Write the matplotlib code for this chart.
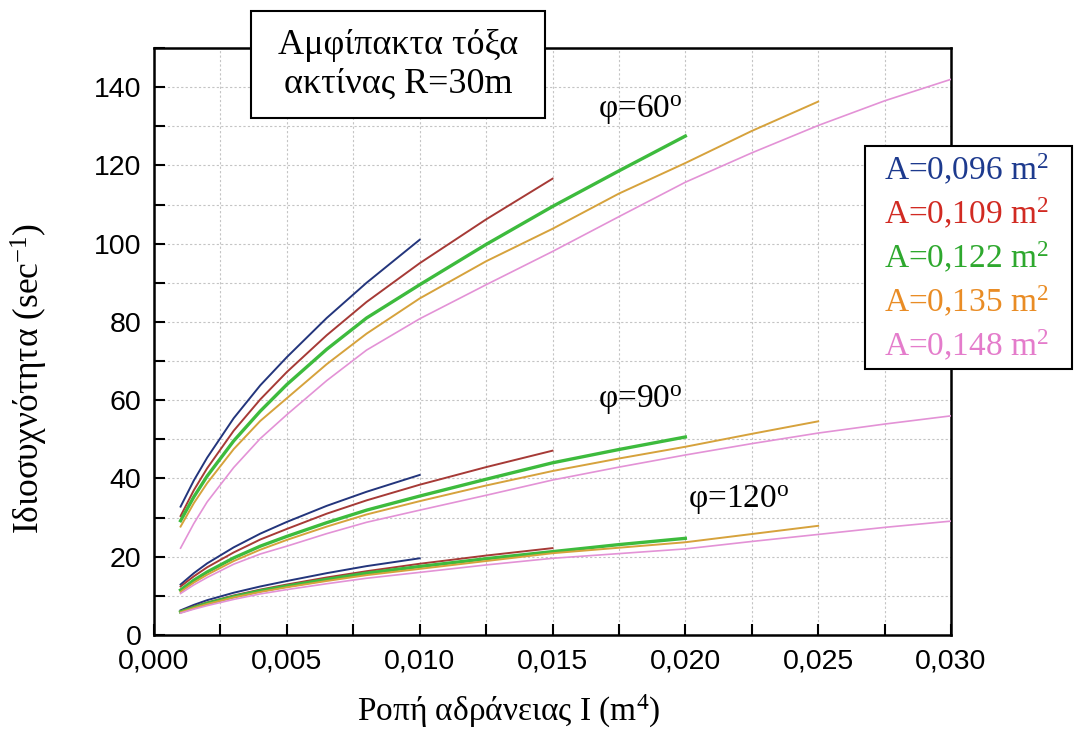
import matplotlib
matplotlib.use('Agg')
import matplotlib.pyplot as plt
from matplotlib.patches import Rectangle
from matplotlib.lines import Line2D
from matplotlib.ticker import MultipleLocator, FuncFormatter

plt.rcParams['font.family'] = ['Liberation Serif', 'DejaVu Serif']
plt.rcParams['mathtext.default'] = 'regular'

#========================================================================
# Data: moment of inertia I (m^4) vs natural frequency (sec^-1)
#========================================================================
I_vals = [0.001, 0.0015, 0.002, 0.003, 0.004, 0.005, 0.0065, 0.008, 0.010,
          0.0125, 0.015, 0.0175, 0.020, 0.0225, 0.025, 0.0275, 0.030]

areas = ['0,096', '0,109', '0,122', '0,135', '0,148']
line_colors = ['#23357c', '#a63a36', '#3dbb3d', '#d6a23c', '#e392d6']
text_colors = ['#1d3a8e', '#d12a22', '#2ea82e', '#e98c25', '#e47ccb']
line_widths = [1.4, 1.4, 2.4, 1.4, 1.2]

# phi = 60 deg
f60_096 = [32.8, 39.5, 45.3, 55.4, 63.8, 71.0, 81.0, 90.0, 101.0]
f60_109 = [30.4, 37.0, 42.6, 52.2, 60.2, 67.2, 76.6, 85.1, 95.0, 106.2, 116.6]
f60_122 = [29.2, 35.3, 40.6, 49.6, 57.2, 64.0, 73.0, 81.0, 89.5, 99.8, 109.5, 118.6, 127.5]
f60_135 = [27.7, 33.7, 38.8, 47.5, 54.7, 60.5, 69.2, 77.0, 86.0, 95.5, 103.8, 112.8, 120.6, 128.8, 136.3]
f60_148 = [22.2, 28.5, 34.0, 42.8, 50.2, 56.3, 65.0, 72.8, 80.8, 89.5, 98.0, 106.9, 115.7, 123.2, 130.2, 136.5, 142.0]

# phi = 90 deg
f90_096 = [12.9, 15.8, 18.3, 22.4, 25.9, 28.9, 33.0, 36.6, 40.9]
f90_109 = [12.4, 15.0, 17.3, 21.1, 24.4, 27.1, 31.0, 34.4, 38.4, 42.9, 47.1]
f90_122 = [11.5, 14.0, 16.1, 19.7, 22.7, 25.2, 28.7, 31.9, 35.5, 39.8, 44.0, 47.4, 50.6]
f90_135 = [11.0, 13.4, 15.4, 18.9, 21.8, 24.3, 27.7, 30.8, 34.2, 38.2, 41.9, 45.1, 48.1, 51.4, 54.6]
f90_148 = [10.6, 12.8, 14.7, 18.1, 20.7, 22.7, 25.9, 28.8, 31.9, 35.7, 39.6, 42.9, 46.0, 48.9, 51.6, 53.9, 56.0]

# phi = 120 deg
f120_096 = [6.3, 7.7, 8.9, 10.8, 12.4, 13.8, 15.8, 17.6, 19.6]
f120_109 = [6.1, 7.3, 8.3, 10.1, 11.6, 12.9, 14.7, 16.3, 18.2, 20.3, 22.2]
f120_122 = [5.9, 7.0, 8.1, 9.8, 11.3, 12.5, 14.2, 15.8, 17.5, 19.5, 21.3, 23.1, 24.7]
f120_135 = [5.8, 6.9, 7.9, 9.6, 11.0, 12.2, 13.8, 15.3, 16.9, 18.9, 20.9, 22.3, 23.7, 25.8, 27.9]
f120_148 = [5.6, 6.6, 7.5, 9.1, 10.5, 11.6, 13.1, 14.5, 16.0, 17.9, 19.6, 20.8, 22.0, 23.9, 25.7, 27.5, 29.1]

groups = [
    [f60_096, f60_109, f60_122, f60_135, f60_148],
    [f90_096, f90_109, f90_122, f90_135, f90_148],
    [f120_096, f120_109, f120_122, f120_135, f120_148],
]

#========================================================================
# Figure
#========================================================================
W, H = 1074, 747
fig = plt.figure(figsize=(W / 100, H / 100), dpi=100)
ax = fig.add_axes([154 / W, 1 - 635 / H, 797 / W, 587 / H])

for curves in groups:
    for k, f in enumerate(curves):
        ax.plot(I_vals[:len(f)], f, color=line_colors[k], lw=line_widths[k], zorder=3)

ax.set_xlim(0, 0.030)
ax.set_ylim(0, 150)
ax.xaxis.set_major_locator(MultipleLocator(0.005))
ax.xaxis.set_minor_locator(MultipleLocator(0.0025))
ax.yaxis.set_major_locator(MultipleLocator(20))
ax.yaxis.set_minor_locator(MultipleLocator(10))
ax.xaxis.set_major_formatter(FuncFormatter(lambda v, p: '{:.3f}'.format(v).replace('.', ',')))
ax.yaxis.set_major_formatter(FuncFormatter(lambda v, p: '{:.0f}'.format(v)))

ax.grid(which='both', color='#c4c4c4', lw=0.8, ls=(0, (2, 2)), zorder=0)
ax.tick_params(which='both', direction='in', length=8, width=1.5, top=False, right=False)
ax.tick_params(axis='x', which='major', pad=10)
ax.tick_params(axis='y', which='major', pad=9)
for lbl in ax.get_xticklabels() + ax.get_yticklabels():
    lbl.set_family(['Liberation Sans', 'DejaVu Sans'])
    lbl.set_fontsize(20.5)
for s in ax.spines.values():
    s.set_linewidth(1.8)

ax.set_xlabel('Ροπή αδράνειας I (m$^4$)', fontsize=24)
ax.set_ylabel('Ιδιοσυχνότητα (sec$^{-1}$)', fontsize=25.5)
ax.xaxis.set_label_coords((509 - 154) / 797, -(693 - 635) / 587)
ax.yaxis.set_label_coords((50 - 154) / 797, (635 - 378) / 587)

# curve family labels
ax.text(0.01673, 134, 'φ=60$^o$', fontsize=24, va='center', ha='left')
ax.text(0.01673, 60, 'φ=90$^o$', fontsize=24, va='center', ha='left')
ax.text(0.02011, 34.5, 'φ=120$^o$', fontsize=24, va='center', ha='left')

# title box
fig.patches.append(Rectangle((251 / W, 1 - 118 / H), 294 / W, 107 / H,
                             transform=fig.transFigure, facecolor='white',
                             edgecolor='black', lw=1.5, zorder=5))
fig.text(398 / W, 1 - 65 / H, 'Αμφίπακτα τόξα\nακτίνας R=30m', fontsize=26,
         ha='center', va='center', linespacing=1.2, zorder=6)

# legend of cross-section areas (frame drawn separately)
fig.patches.append(Rectangle((865 / W, 1 - 369 / H), 207 / W, 223 / H,
                             transform=fig.transFigure, facecolor='white',
                             edgecolor='black', lw=1.5, zorder=4.5))
handles = [Line2D([], [], color=c, lw=0) for c in line_colors]
labels = ['A={} m$^2$'.format(a) for a in areas]
leg = fig.legend(handles, labels, loc='upper left', bbox_to_anchor=(884 / W, 1 - 152 / H),
                 bbox_transform=fig.transFigure, fontsize=24, handlelength=0,
                 handletextpad=0, labelspacing=0.27, borderpad=0, borderaxespad=0,
                 frameon=False)
for t, c in zip(leg.get_texts(), text_colors):
    t.set_color(c)

fig.savefig('out.png', dpi=100)
